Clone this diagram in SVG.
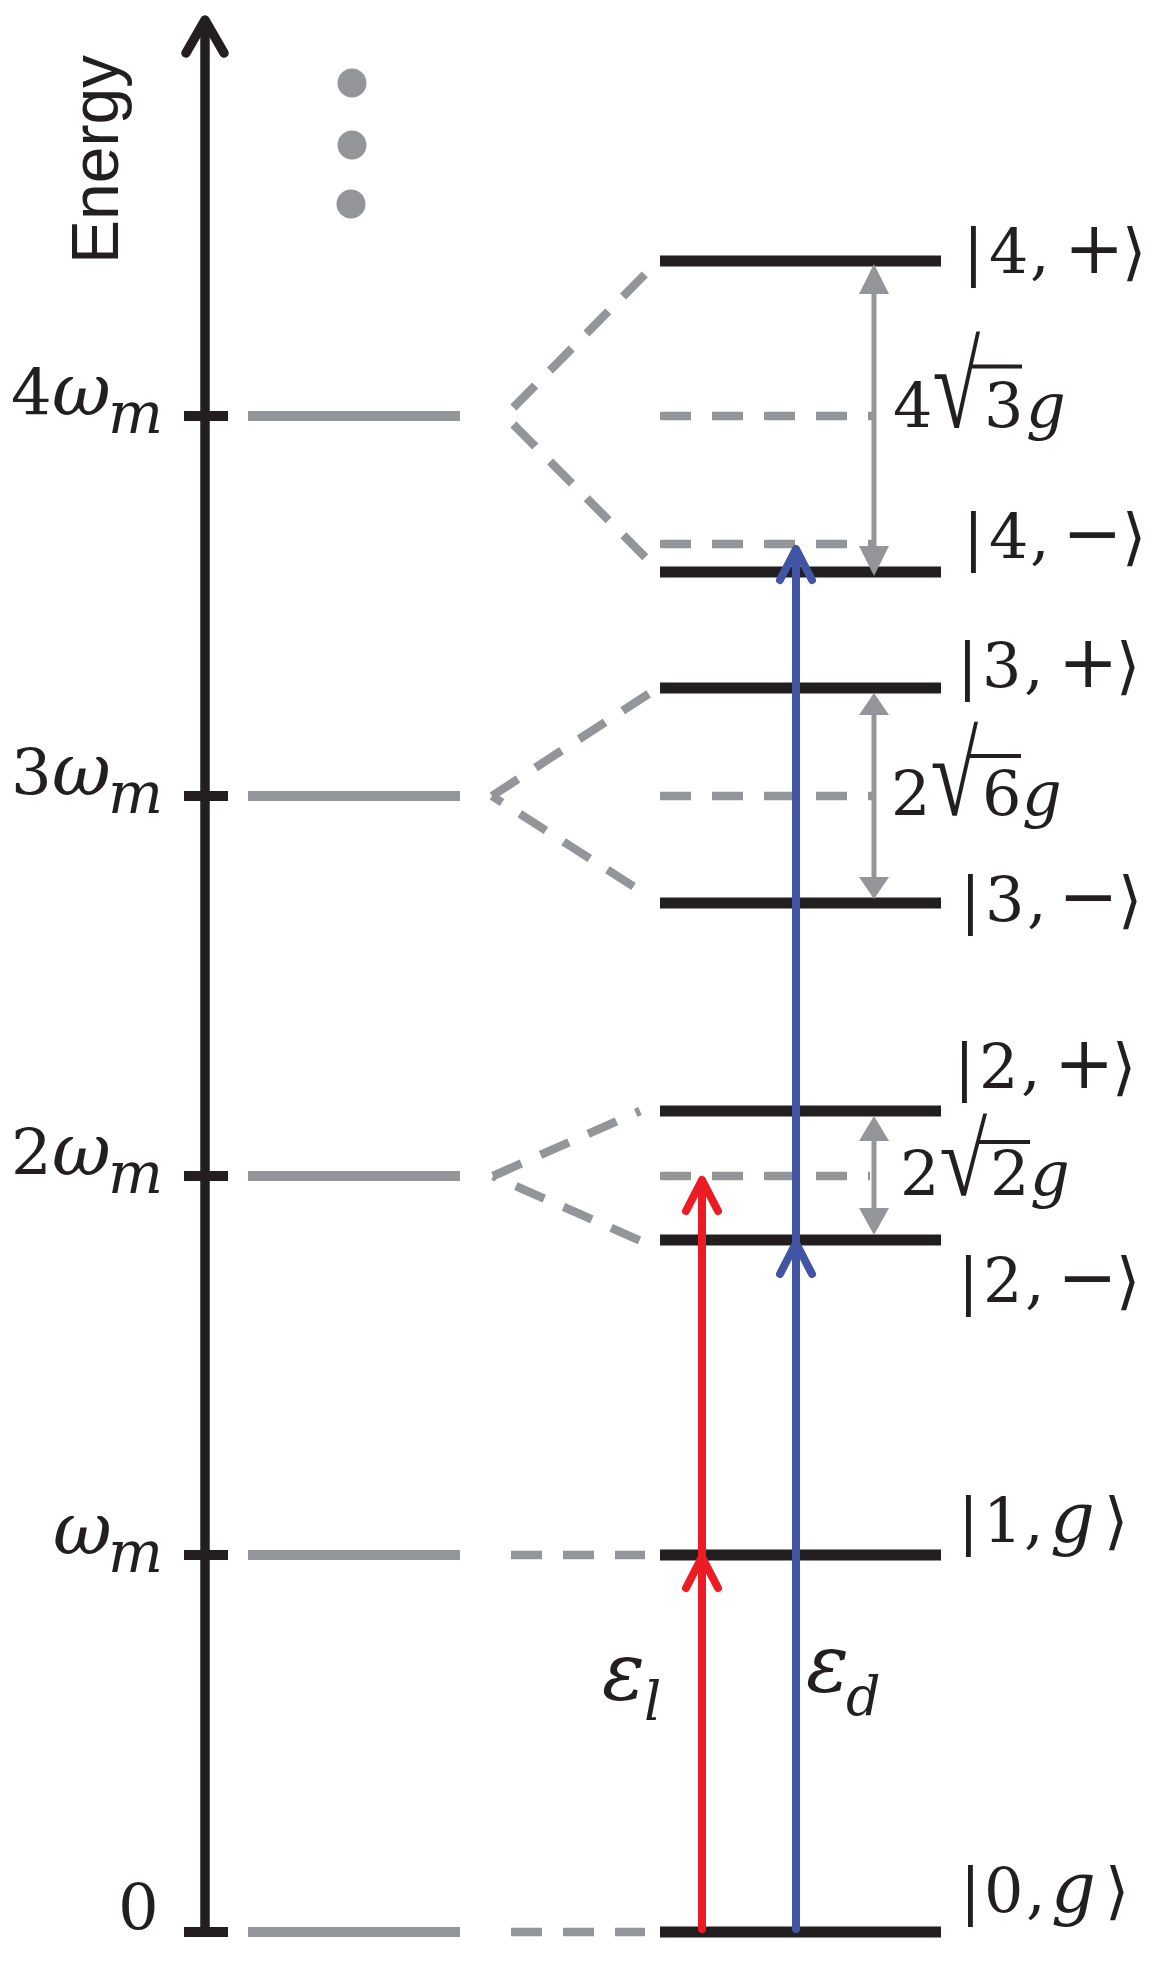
<svg xmlns="http://www.w3.org/2000/svg" width="1155" height="1968" viewBox="0 0 1155 1968">
<style>
.ax{stroke:#231F20;stroke-width:9.5;fill:none;stroke-linecap:round;stroke-linejoin:round}
.tick{stroke:#231F20;stroke-width:10}
.bare{stroke:#939598;stroke-width:10}
.lvl{stroke:#231F20;stroke-width:11}
.dsh{stroke:#939598;stroke-width:8.5;stroke-dasharray:31 21;fill:none}
.gap{stroke:#939598;stroke-width:5}
.gh{fill:#939598}
.dot{fill:#939598}
.red{stroke:#ED1C24;stroke-width:8;fill:none;stroke-linecap:round;stroke-linejoin:round}
.blue{stroke:#4155A4;stroke-width:8;fill:none;stroke-linecap:round;stroke-linejoin:round}
.vin{stroke:#231F20;stroke-width:4}
.t{font-family:"DejaVu Serif","Liberation Serif",serif;fill:#231F20}
.rad{font-family:"Liberation Serif","DejaVu Serif",serif;fill:#231F20;font-size:62px}
.ax-l{font-size:64px}
.st{font-size:62px}
.op{font-size:72px}
.it{font-style:italic}
.g{font-style:italic;font-size:70px}
.sans{font-family:"Liberation Sans",Arial,sans-serif;fill:#231F20}
</style>

<g id="axis">
  <line class="ax" x1="205" y1="1932" x2="205" y2="22"/>
  <polyline class="ax" points="186,53 205,20 224,53"/>
  <text class="sans" font-size="66" transform="translate(117.5,264) rotate(-90)">Energy</text>
</g>

<g id="dots">
  <circle class="dot" cx="352" cy="83" r="14.5"/>
  <circle class="dot" cx="352" cy="145" r="14.5"/>
  <circle class="dot" cx="351" cy="204" r="14.5"/>
</g>

<g id="bare4">
  <line class="tick" x1="184" y1="416" x2="228" y2="416"/>
  <line class="bare" x1="248" y1="416" x2="460" y2="416"/>
  <text class="t ax-l" y="415"><tspan x="11">4</tspan><tspan class="it" font-size="72" x="52">ω</tspan><tspan class="it" font-size="58" x="108" dy="18">m</tspan></text>
</g>
<g id="bare3">
  <line class="tick" x1="184" y1="796" x2="228" y2="796"/>
  <line class="bare" x1="248" y1="796" x2="460" y2="796"/>
  <text class="t ax-l" y="795"><tspan x="11">3</tspan><tspan class="it" font-size="72" x="52">ω</tspan><tspan class="it" font-size="58" x="108" dy="18">m</tspan></text>
</g>
<g id="bare2">
  <line class="tick" x1="184" y1="1176" x2="228" y2="1176"/>
  <line class="bare" x1="248" y1="1176" x2="460" y2="1176"/>
  <text class="t ax-l" y="1175"><tspan x="11">2</tspan><tspan class="it" font-size="72" x="52">ω</tspan><tspan class="it" font-size="58" x="108" dy="18">m</tspan></text>
</g>
<g id="bare1">
  <line class="tick" x1="184" y1="1555" x2="228" y2="1555"/>
  <line class="bare" x1="248" y1="1555" x2="460" y2="1555"/>
  <text class="t ax-l" y="1554"><tspan class="it" font-size="72" x="53">ω</tspan><tspan class="it" font-size="58" x="108" dy="18">m</tspan></text>
</g>
<g id="bare0">
  <line class="tick" x1="184" y1="1932" x2="228" y2="1932"/>
  <line class="bare" x1="248" y1="1932" x2="460" y2="1932"/>
  <text class="t ax-l" x="118" y="1930">0</text>
</g>

<g id="connectors">
  <path class="dsh" d="M505,416 L658,261" stroke-dashoffset="40"/>
  <path class="dsh" d="M505,416 L660,572" stroke-dashoffset="40"/>
  <path class="dsh" d="M660,416 H872"/>
  <path class="dsh" d="M660,544 H872"/>
  <path class="dsh" d="M492,796 L656,689"/>
  <path class="dsh" d="M492,796 L650,897" stroke-dashoffset="19"/>
  <path class="dsh" d="M660,796 H872"/>
  <path class="dsh" d="M493,1176 L640,1111"/>
  <path class="dsh" d="M493,1176 L641,1241" stroke-dashoffset="27"/>
  <path class="dsh" d="M660,1176 H870"/>
  <path class="dsh" d="M511,1555 H645"/>
  <path class="dsh" d="M511,1932 H645"/>
</g>

<g id="lvl4p">
  <line class="lvl" x1="660" y1="261" x2="941" y2="261"/>
  <text class="t st" y="273"><tspan x="963">|</tspan><tspan x="989">4</tspan><tspan x="1030">,</tspan><tspan> </tspan><tspan class="op" x="1064">+</tspan><tspan x="1122">⟩</tspan></text>
</g>
<g id="lvl4m">
  <line class="lvl" x1="660" y1="572" x2="941" y2="572"/>
  <text class="t st" y="558"><tspan x="963">|</tspan><tspan x="989">4</tspan><tspan x="1030">,</tspan><tspan> </tspan><tspan class="op" x="1062">−</tspan><tspan x="1122">⟩</tspan></text>
</g>
<g id="lvl3p">
  <line class="lvl" x1="660" y1="688" x2="941" y2="688"/>
  <text class="t st" y="687"><tspan x="957">|</tspan><tspan x="982">3</tspan><tspan x="1024">,</tspan><tspan> </tspan><tspan class="op" x="1058">+</tspan><tspan x="1116">⟩</tspan></text>
</g>
<g id="lvl3m">
  <line class="lvl" x1="660" y1="903" x2="941" y2="903"/>
  <text class="t st" y="921"><tspan x="960">|</tspan><tspan x="985">3</tspan><tspan x="1027">,</tspan><tspan> </tspan><tspan class="op" x="1058">−</tspan><tspan x="1118">⟩</tspan></text>
</g>
<g id="lvl2p">
  <line class="lvl" x1="660" y1="1111" x2="941" y2="1111"/>
  <text class="t st" y="1088"><tspan x="954">|</tspan><tspan x="979">2</tspan><tspan x="1021">,</tspan><tspan> </tspan><tspan class="op" x="1054">+</tspan><tspan x="1112">⟩</tspan></text>
</g>
<g id="lvl2m">
  <line class="lvl" x1="660" y1="1240" x2="941" y2="1240"/>
  <text class="t st" y="1302"><tspan x="958">|</tspan><tspan x="983">2</tspan><tspan x="1025">,</tspan><tspan> </tspan><tspan class="op" x="1057">−</tspan><tspan x="1116">⟩</tspan></text>
</g>
<g id="lvl1g">
  <line class="lvl" x1="660" y1="1555" x2="941" y2="1555"/>
  <text class="t st" y="1542"><tspan x="958">|</tspan><tspan x="983">1</tspan><tspan x="1024">,</tspan><tspan> </tspan><tspan class="g" x="1050">g</tspan><tspan x="1104">⟩</tspan></text>
</g>
<g id="lvl0g">
  <line class="lvl" x1="660" y1="1932" x2="941" y2="1932"/>
  <text class="t st" y="1912"><tspan x="960">|</tspan><tspan x="984">0</tspan><tspan x="1026">,</tspan><tspan> </tspan><tspan class="g" x="1051">g</tspan><tspan x="1105">⟩</tspan></text>
</g>

<g id="split4">
  <line class="gap" x1="874" y1="290" x2="874" y2="550"/>
  <polygon class="gh" points="874,264 859,294 889,294"/>
  <polygon class="gh" points="874,576 859,546 889,546"/>
  <text class="t st" y="427"><tspan x="893">4</tspan></text>
  <text class="rad" transform="translate(932.5,427) scale(1.4,1.95)">√</text>
  <text class="t st" y="427"><tspan x="984">3</tspan><tspan class="it" x="1026">g</tspan></text>
  <line class="vin" x1="972" y1="366.5" x2="1022" y2="366.5"/>
</g>
<g id="split3">
  <line class="gap" x1="874" y1="710" x2="874" y2="880"/>
  <polygon class="gh" points="874,693 859,715 889,715"/>
  <polygon class="gh" points="874,899 859,877 889,877"/>
  <text class="t st" y="815"><tspan x="891">2</tspan></text>
  <text class="rad" transform="translate(930.5,815) scale(1.4,1.9)">√</text>
  <text class="t st" y="815"><tspan x="982">6</tspan><tspan class="it" x="1022">g</tspan></text>
  <line class="vin" x1="970" y1="756" x2="1021" y2="756"/>
</g>
<g id="split2">
  <line class="gap" x1="874" y1="1135" x2="874" y2="1212"/>
  <polygon class="gh" points="874,1116 859,1141 889,1141"/>
  <polygon class="gh" points="874,1235 859,1208 889,1208"/>
  <text class="t st" y="1195"><tspan x="900">2</tspan></text>
  <text class="rad" transform="translate(939.5,1195) scale(1.4,1.66)">√</text>
  <text class="t st" y="1195"><tspan x="990">2</tspan><tspan class="it" x="1030">g</tspan></text>
  <line class="vin" x1="979" y1="1142" x2="1030" y2="1142"/>
</g>

<g id="arrows">
  <line class="red" x1="702" y1="1929" x2="702" y2="1181"/>
  <polyline class="red" points="686,1211 702,1180 718,1211"/>
  <polyline class="red" points="686,1588 702,1557 718,1588"/>
  <line class="blue" x1="796" y1="1929" x2="796" y2="550"/>
  <polyline class="blue" points="780,580 796,549 812,580"/>
  <polyline class="blue" points="780,1274 796,1243 812,1274"/>
  <text class="t" y="1699"><tspan class="it" font-size="80" x="602">ε</tspan><tspan class="it" font-size="54" x="644" dy="21">l</tspan></text>
  <text class="t" y="1691"><tspan class="it" font-size="80" x="806">ε</tspan><tspan class="it" font-size="54" x="846" dy="24">d</tspan></text>
</g>
</svg>
